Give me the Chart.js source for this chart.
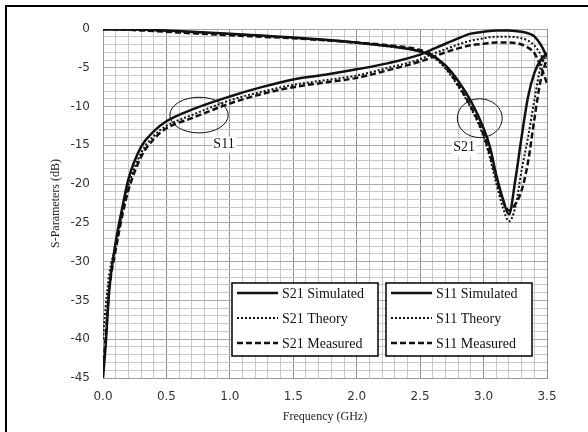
<!DOCTYPE html>
<html>
<head>
<meta charset="utf-8">
<script src="https://cdn.jsdelivr.net/npm/chart.js@4.4.0/dist/chart.umd.min.js"></script>
<style>
  html, body { margin: 0; padding: 0; background: #fff; }
</style>
</head>
<body>
<canvas id="myChart" width="588" height="432"></canvas>
<script>
// frequency points (GHz), shared by every curve
var freq = [0, 0.02, 0.05, 0.1, 0.15, 0.2, 0.3, 0.4, 0.5, 0.7,
  1.0, 1.25, 1.5, 1.75, 2.0, 2.25, 2.5, 2.6, 2.7, 2.8,
  2.9, 3.0, 3.05, 3.1, 3.15, 3.2, 3.25, 3.3, 3.35, 3.4,
  3.45, 3.5];

// S21 curves (dB)
var s21Sim = [-0.05, -0.05, -0.05, -0.05, -0.06, -0.07, -0.1, -0.14, -0.2, -0.35,
  -0.6, -0.85, -1.1, -1.4, -1.75, -2.2, -2.9, -3.5, -4.7, -6.7,
  -9.3, -12.8, -15.2, -18.8, -21.8, -23.9, -19.5, -13.9, -8.8, -5.7,
  -4.0, -3.1];
var s21Theory = [0, 0, 0, -0.02, -0.04, -0.06, -0.1, -0.16, -0.25, -0.4,
  -0.65, -0.9, -1.15, -1.45, -1.8, -2.25, -2.9, -3.6, -5.1, -7.4,
  -10.2, -13.9, -16.6, -19.9, -22.9, -24.8, -23.0, -18.2, -14.0, -9.2,
  -4.9, -3.3];
var s21Meas = [0, 0, 0, -0.03, -0.06, -0.1, -0.18, -0.26, -0.35, -0.55,
  -0.8, -1.0, -1.2, -1.45, -1.75, -2.1, -2.7, -3.4, -4.9, -7.2,
  -10.0, -13.6, -16.2, -19.2, -22.0, -23.4, -22.6, -20.8, -17.2, -11.7,
  -6.6, -3.8];

// S11 curves (dB)
var s11Sim = [-45, -41, -33.5, -27.5, -23.2, -19.4, -15.2, -13.2, -11.9, -10.4,
  -8.7, -7.5, -6.5, -5.9, -5.2, -4.4, -3.3, -2.6, -1.9, -1.2,
  -0.6, -0.35, -0.25, -0.2, -0.2, -0.2, -0.25, -0.35, -0.55, -0.95,
  -2.0, -3.6];
var s11Theory = [-40, -36, -31.5, -28, -23.7, -20.2, -16.0, -13.8, -12.5, -11.1,
  -9.2, -8.1, -7.2, -6.6, -6.0, -5.0, -3.9, -3.2, -2.6, -2.0,
  -1.5, -1.2, -1.05, -1.0, -1.0, -1.0, -1.05, -1.2, -1.5, -2.1,
  -3.3, -5.0];
var s11Meas = [-44, -40, -33.5, -28.5, -24.2, -20.8, -16.5, -14.2, -12.8, -11.5,
  -9.6, -8.4, -7.5, -6.9, -6.3, -5.3, -4.2, -3.6, -3.0, -2.5,
  -2.1, -1.9, -1.8, -1.75, -1.75, -1.75, -1.8, -2.0, -2.4, -3.1,
  -4.8, -7.0];

var seriesNames = ["S21 Simulated", "S21 Theory", "S21 Measured",
  "S11 Simulated", "S11 Theory", "S11 Measured"];
var xTickMajor = 0.5;
var yTickMajor = 5;

function pts(ys) {
  return freq.map(function (f, i) { return { x: f, y: ys[i] }; });
}

// line styles: solid / dotted / dashed
var solid = { borderWidth: 2.5, borderDash: [] };
var dotted = { borderWidth: 2, borderDash: [2, 2] };
var dashed = { borderWidth: 2.5, borderDash: [6, 3] };

function ds(label, ys, style) {
  return {
    label: label,
    data: pts(ys),
    borderColor: "#111",
    backgroundColor: "#111",
    borderWidth: style.borderWidth,
    borderDash: style.borderDash,
    pointRadius: 0,
    cubicInterpolationMode: "monotone",
    fill: false,
  };
}

var datasets = [
  ds(seriesNames[0], s21Sim, solid),
  ds(seriesNames[1], s21Theory, dotted),
  ds(seriesNames[2], s21Meas, dashed),
  ds(seriesNames[3], s11Sim, solid),
  ds(seriesNames[4], s11Theory, dotted),
  ds(seriesNames[5], s11Meas, dashed),
];

function isMajor(v, step) {
  var r = v / step;
  return Math.abs(r - Math.round(r)) < 1e-6;
}

/////////////////////////////////// extras: frame, titles, ellipses, legend boxes
var extras = {
  id: "extras",
  afterDraw: function (chart) {
    var ctx = chart.ctx;
    var xs = chart.scales.x;
    var ys = chart.scales.y;
    ctx.save();

    // outer frame (only top + left are inside the picture)
    ctx.strokeStyle = "#000";
    ctx.lineWidth = 2;
    ctx.beginPath();
    ctx.moveTo(588, 6);
    ctx.lineTo(6, 6);
    ctx.lineTo(6, 432);
    ctx.stroke();

    // axis titles
    ctx.fillStyle = "#222";
    ctx.font = "12px 'Liberation Serif', 'Times New Roman', serif";
    ctx.textAlign = "center";
    ctx.textBaseline = "middle";
    ctx.fillText("Frequency (GHz)", (chart.chartArea.left + chart.chartArea.right) / 2, 417);
    ctx.save();
    ctx.translate(56, (chart.chartArea.top + chart.chartArea.bottom) / 2);
    ctx.rotate(-Math.PI / 2);
    ctx.fillText("S-Parameters (dB)", 0, 0);
    ctx.restore();

    // ellipses round each curve group, with their labels
    function ellipse(cx, cy, rx, ry) {
      var px = xs.getPixelForValue(cx);
      var py = ys.getPixelForValue(cy);
      var prx = xs.getPixelForValue(cx + rx) - px;
      var pry = ys.getPixelForValue(cy - ry) - py;
      ctx.beginPath();
      ctx.ellipse(px, py, prx, pry, 0, 0, Math.PI * 2);
      ctx.strokeStyle = "#111";
      ctx.lineWidth = 1;
      ctx.stroke();
    }
    function tag(txt, fx, fy) {
      var px = xs.getPixelForValue(fx);
      var py = ys.getPixelForValue(fy);
      ctx.font = "14px 'Liberation Serif', 'Times New Roman', serif";
      var w = ctx.measureText(txt).width;
      ctx.fillStyle = "#fff";
      ctx.fillRect(px - 1, py - 8, w + 3, 16);
      ctx.fillStyle = "#111";
      ctx.textAlign = "left";
      ctx.textBaseline = "middle";
      ctx.fillText(txt, px, py);
    }
    ellipse(0.757, -11.1, 0.23, 2.3);
    ellipse(2.97, -11.5, 0.177, 2.5);
    tag("S11", 0.87, -14.9);
    tag("S21", 2.76, -15.3);

    // two legend boxes, 3 rows each
    var dsets = chart.data.datasets;
    function legendBox(x0, y0, w, h, first) {
      ctx.fillStyle = "#fff";
      ctx.fillRect(x0, y0, w, h);
      ctx.strokeStyle = "#000";
      ctx.lineWidth = 1.5;
      ctx.setLineDash([]);
      ctx.strokeRect(x0, y0, w, h);
      for (var i = 0; i < 3; i++) {
        var d = dsets[first + i];
        var ry = y0 + 10 + i * 25;
        ctx.beginPath();
        ctx.setLineDash(d.borderDash);
        ctx.lineWidth = d.borderWidth;
        ctx.strokeStyle = d.borderColor;
        ctx.moveTo(x0 + 5, ry);
        ctx.lineTo(x0 + 46, ry);
        ctx.stroke();
        ctx.setLineDash([]);
        ctx.fillStyle = "#111";
        ctx.font = "14px 'Liberation Serif', 'Times New Roman', serif";
        ctx.textAlign = "left";
        ctx.textBaseline = "middle";
        ctx.fillText(d.label, x0 + 50, ry + 1);
      }
    }
    legendBox(232, 283, 146, 73, 0);
    legendBox(386, 283, 146, 73, 3);

    ctx.restore();
  },
};

const config = {
  type: "line",
  data: { datasets: datasets },
  options: {
    responsive: false,
    animation: false,
    layout: { padding: { left: 0, right: 41, top: 29, bottom: 0 } },
    plugins: { legend: { display: false }, tooltip: { enabled: false } },
    scales: {
      x: {
        type: "linear",
        min: 0,
        max: 3.5,
        afterFit: function (s) { s.height = 54; },
        border: { color: "#999", width: 1 },
        grid: {
          drawTicks: false,
          color: function (c) { return isMajor(c.tick.value, xTickMajor) ? "#8c8c8c" : "#c8c8c8"; },
        },
        ticks: {
          stepSize: 0.1,
          autoSkip: false,
          maxRotation: 0,
          padding: 12,
          color: "#333",
          font: { family: "'DejaVu Sans', Verdana, sans-serif", size: 12 },
          callback: function (v) { return isMajor(v, xTickMajor) ? v.toFixed(1) : ""; },
        },
      },
      y: {
        min: -45,
        max: 0,
        afterFit: function (s) { s.width = 103; },
        border: { color: "#999", width: 1 },
        grid: {
          drawTicks: false,
          color: function (c) { return isMajor(c.tick.value, yTickMajor) ? "#a8a8a8" : "#c8c8c8"; },
        },
        ticks: {
          stepSize: 1,
          autoSkip: false,
          padding: 13,
          color: "#333",
          font: { family: "'DejaVu Sans', Verdana, sans-serif", size: 12 },
          callback: function (v) { return isMajor(v, yTickMajor) ? String(v) : ""; },
        },
      },
    },
  },
  plugins: [extras],
};

const myChart = new Chart(document.getElementById("myChart"), config);
</script>
</body>
</html>
